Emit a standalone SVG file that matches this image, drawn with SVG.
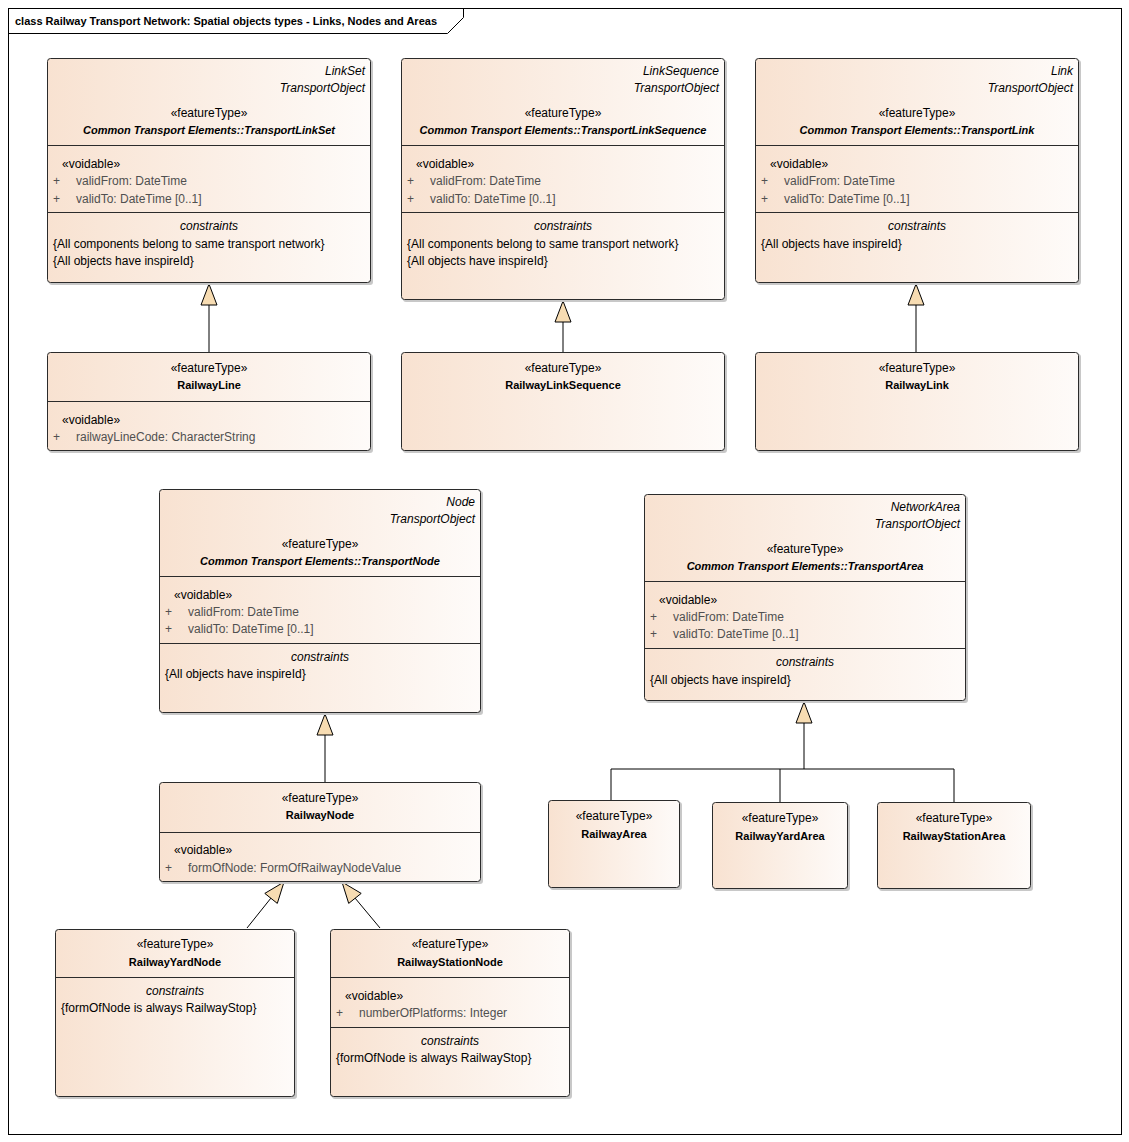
<svg xmlns="http://www.w3.org/2000/svg" width="1129" height="1142" viewBox="0 0 1129 1142">
<defs>
<linearGradient id="g" x1="0" y1="0" x2="1" y2="0">
<stop offset="0" stop-color="#F8E2D1"/>
<stop offset="1" stop-color="#FEFBF9"/>
</linearGradient>
<style>
text{font-family:"Liberation Sans",Arial,sans-serif;font-size:12px;fill:#000}
.box{fill:url(#g);stroke:#2b2b2b;stroke-width:1}
.sh{fill:#c8c8c8}
.sep{stroke:#2b2b2b;stroke-width:1}
.c{text-anchor:middle}
.r{text-anchor:end;font-style:italic}
.n{font-weight:bold;font-size:11px}
.bi{font-weight:bold;font-style:italic;font-size:11px}
.i{font-style:italic}
.a{fill:#505050}
.con{stroke:#000;stroke-width:1;fill:none}
.tri{fill:#F7DCB2;stroke:#000;stroke-width:1}
</style>
</defs>
<rect x="0" y="0" width="1129" height="1142" fill="#fff"/>
<g id="frame">
<rect x="8.5" y="8.5" width="1113" height="1126" fill="none" stroke="#000"/>
<path d="M8.5 33.5 H447.5 L463.5 17.5 V8.5" fill="none" stroke="#000"/>
<text x="15" y="25" class="n">class Railway Transport Network: Spatial objects types - Links, Nodes and Areas</text>
</g>

<g id="connectors">
<path class="con" d="M209 305 V352"/>
<polygon class="tri" points="209,284 201,305 217,305"/>
<path class="con" d="M563 322 V352"/>
<polygon class="tri" points="563,301 555,322 571,322"/>
<path class="con" d="M916 305 V352"/>
<polygon class="tri" points="916,284 908,305 924,305"/>
<path class="con" d="M325 735 V782"/>
<polygon class="tri" points="325,714 317,735 333,735"/>
<path class="con" d="M247 928 L271 898"/>
<polygon class="tri" points="284,882 264.8,893.4 277.3,903.4"/>
<path class="con" d="M380 928 L355 898"/>
<polygon class="tri" points="342,882 348.7,903.4 361.2,893.4"/>
<path class="con" d="M804 723 V769 M611 769 H954 M611 769 V800 M780 769 V802 M954 769 V802"/>
<polygon class="tri" points="804,702 796,723 812,723"/>
</g>

<g id="TransportLinkSet">
<rect class="sh" x="49" y="60" width="324" height="225" rx="3"/>
<rect class="box" x="47.5" y="58.5" width="323" height="224" rx="3"/>
<text x="365" y="75" class="r">LinkSet</text>
<text x="365" y="92" class="r">TransportObject</text>
<text x="209" y="117" class="c">«featureType»</text>
<text x="209" y="134" class="c bi">Common Transport Elements::TransportLinkSet</text>
<line class="sep" x1="47.5" y1="145.5" x2="370.5" y2="145.5"/>
<text x="62" y="168">«voidable»</text>
<text x="53" y="185" class="a">+</text><text x="76" y="185" class="a">validFrom: DateTime</text>
<text x="53" y="203" class="a">+</text><text x="76" y="203" class="a">validTo: DateTime [0..1]</text>
<line class="sep" x1="47.5" y1="212.5" x2="370.5" y2="212.5"/>
<text x="209" y="230" class="c i">constraints</text>
<text x="53" y="248">{All components belong to same transport network}</text>
<text x="53" y="265">{All objects have inspireId}</text>
</g>

<g id="TransportLinkSequence">
<rect class="sh" x="403" y="60" width="324" height="242" rx="3"/>
<rect class="box" x="401.5" y="58.5" width="323" height="241" rx="3"/>
<text x="719" y="75" class="r">LinkSequence</text>
<text x="719" y="92" class="r">TransportObject</text>
<text x="563" y="117" class="c">«featureType»</text>
<text x="563" y="134" class="c bi">Common Transport Elements::TransportLinkSequence</text>
<line class="sep" x1="401.5" y1="145.5" x2="724.5" y2="145.5"/>
<text x="416" y="168">«voidable»</text>
<text x="407" y="185" class="a">+</text><text x="430" y="185" class="a">validFrom: DateTime</text>
<text x="407" y="203" class="a">+</text><text x="430" y="203" class="a">validTo: DateTime [0..1]</text>
<line class="sep" x1="401.5" y1="212.5" x2="724.5" y2="212.5"/>
<text x="563" y="230" class="c i">constraints</text>
<text x="407" y="248">{All components belong to same transport network}</text>
<text x="407" y="265">{All objects have inspireId}</text>
</g>

<g id="TransportLink">
<rect class="sh" x="757" y="60" width="324" height="225" rx="3"/>
<rect class="box" x="755.5" y="58.5" width="323" height="224" rx="3"/>
<text x="1073" y="75" class="r">Link</text>
<text x="1073" y="92" class="r">TransportObject</text>
<text x="917" y="117" class="c">«featureType»</text>
<text x="917" y="134" class="c bi">Common Transport Elements::TransportLink</text>
<line class="sep" x1="755.5" y1="145.5" x2="1078.5" y2="145.5"/>
<text x="770" y="168">«voidable»</text>
<text x="761" y="185" class="a">+</text><text x="784" y="185" class="a">validFrom: DateTime</text>
<text x="761" y="203" class="a">+</text><text x="784" y="203" class="a">validTo: DateTime [0..1]</text>
<line class="sep" x1="755.5" y1="212.5" x2="1078.5" y2="212.5"/>
<text x="917" y="230" class="c i">constraints</text>
<text x="761" y="248">{All objects have inspireId}</text>
</g>

<g id="RailwayLine">
<rect class="sh" x="49" y="354" width="324" height="99" rx="3"/>
<rect class="box" x="47.5" y="352.5" width="323" height="98" rx="3"/>
<text x="209" y="372" class="c">«featureType»</text>
<text x="209" y="389" class="c n">RailwayLine</text>
<line class="sep" x1="47.5" y1="401.5" x2="370.5" y2="401.5"/>
<text x="62" y="424">«voidable»</text>
<text x="53" y="441" class="a">+</text><text x="76" y="441" class="a">railwayLineCode: CharacterString</text>
</g>

<g id="RailwayLinkSequence">
<rect class="sh" x="403" y="354" width="324" height="99" rx="3"/>
<rect class="box" x="401.5" y="352.5" width="323" height="98" rx="3"/>
<text x="563" y="372" class="c">«featureType»</text>
<text x="563" y="389" class="c n">RailwayLinkSequence</text>
</g>

<g id="RailwayLink">
<rect class="sh" x="757" y="354" width="324" height="99" rx="3"/>
<rect class="box" x="755.5" y="352.5" width="323" height="98" rx="3"/>
<text x="917" y="372" class="c">«featureType»</text>
<text x="917" y="389" class="c n">RailwayLink</text>
</g>

<g id="TransportNode">
<rect class="sh" x="161" y="491" width="322" height="224" rx="3"/>
<rect class="box" x="159.5" y="489.5" width="321" height="223" rx="3"/>
<text x="475" y="506" class="r">Node</text>
<text x="475" y="523" class="r">TransportObject</text>
<text x="320" y="548" class="c">«featureType»</text>
<text x="320" y="565" class="c bi">Common Transport Elements::TransportNode</text>
<line class="sep" x1="159.5" y1="576.5" x2="480.5" y2="576.5"/>
<text x="174" y="599">«voidable»</text>
<text x="165" y="616" class="a">+</text><text x="188" y="616" class="a">validFrom: DateTime</text>
<text x="165" y="633" class="a">+</text><text x="188" y="633" class="a">validTo: DateTime [0..1]</text>
<line class="sep" x1="159.5" y1="643.5" x2="480.5" y2="643.5"/>
<text x="320" y="661" class="c i">constraints</text>
<text x="165" y="678">{All objects have inspireId}</text>
</g>

<g id="TransportArea">
<rect class="sh" x="646" y="496" width="322" height="207" rx="3"/>
<rect class="box" x="644.5" y="494.5" width="321" height="206" rx="3"/>
<text x="960" y="511" class="r">NetworkArea</text>
<text x="960" y="528" class="r">TransportObject</text>
<text x="805" y="553" class="c">«featureType»</text>
<text x="805" y="570" class="c bi">Common Transport Elements::TransportArea</text>
<line class="sep" x1="644.5" y1="581.5" x2="965.5" y2="581.5"/>
<text x="659" y="604">«voidable»</text>
<text x="650" y="621" class="a">+</text><text x="673" y="621" class="a">validFrom: DateTime</text>
<text x="650" y="638" class="a">+</text><text x="673" y="638" class="a">validTo: DateTime [0..1]</text>
<line class="sep" x1="644.5" y1="648.5" x2="965.5" y2="648.5"/>
<text x="805" y="666" class="c i">constraints</text>
<text x="650" y="684">{All objects have inspireId}</text>
</g>

<g id="RailwayNode">
<rect class="sh" x="161" y="784" width="322" height="100" rx="3"/>
<rect class="box" x="159.5" y="782.5" width="321" height="99" rx="3"/>
<text x="320" y="802" class="c">«featureType»</text>
<text x="320" y="819" class="c n">RailwayNode</text>
<line class="sep" x1="159.5" y1="832.5" x2="480.5" y2="832.5"/>
<text x="174" y="854">«voidable»</text>
<text x="165" y="872" class="a">+</text><text x="188" y="872" class="a">formOfNode: FormOfRailwayNodeValue</text>
</g>

<g id="RailwayYardNode">
<rect class="sh" x="57" y="931" width="240" height="168" rx="3"/>
<rect class="box" x="55.5" y="929.5" width="239" height="167" rx="3"/>
<text x="175" y="948" class="c">«featureType»</text>
<text x="175" y="966" class="c n">RailwayYardNode</text>
<line class="sep" x1="55.5" y1="977.5" x2="294.5" y2="977.5"/>
<text x="175" y="995" class="c i">constraints</text>
<text x="61" y="1012">{formOfNode is always RailwayStop}</text>
</g>

<g id="RailwayStationNode">
<rect class="sh" x="332" y="931" width="240" height="168" rx="3"/>
<rect class="box" x="330.5" y="929.5" width="239" height="167" rx="3"/>
<text x="450" y="948" class="c">«featureType»</text>
<text x="450" y="966" class="c n">RailwayStationNode</text>
<line class="sep" x1="330.5" y1="977.5" x2="569.5" y2="977.5"/>
<text x="345" y="1000">«voidable»</text>
<text x="336" y="1017" class="a">+</text><text x="359" y="1017" class="a">numberOfPlatforms: Integer</text>
<line class="sep" x1="330.5" y1="1027.5" x2="569.5" y2="1027.5"/>
<text x="450" y="1045" class="c i">constraints</text>
<text x="336" y="1062">{formOfNode is always RailwayStop}</text>
</g>

<g id="RailwayArea">
<rect class="sh" x="550" y="802" width="132" height="88" rx="3"/>
<rect class="box" x="548.5" y="800.5" width="131" height="87" rx="3"/>
<text x="614" y="820" class="c">«featureType»</text>
<text x="614" y="838" class="c n">RailwayArea</text>
</g>

<g id="RailwayYardArea">
<rect class="sh" x="714" y="804" width="136" height="87" rx="3"/>
<rect class="box" x="712.5" y="802.5" width="135" height="86" rx="3"/>
<text x="780" y="822" class="c">«featureType»</text>
<text x="780" y="840" class="c n">RailwayYardArea</text>
</g>

<g id="RailwayStationArea">
<rect class="sh" x="879" y="804" width="154" height="87" rx="3"/>
<rect class="box" x="877.5" y="802.5" width="153" height="86" rx="3"/>
<text x="954" y="822" class="c">«featureType»</text>
<text x="954" y="840" class="c n">RailwayStationArea</text>
</g>
</svg>
